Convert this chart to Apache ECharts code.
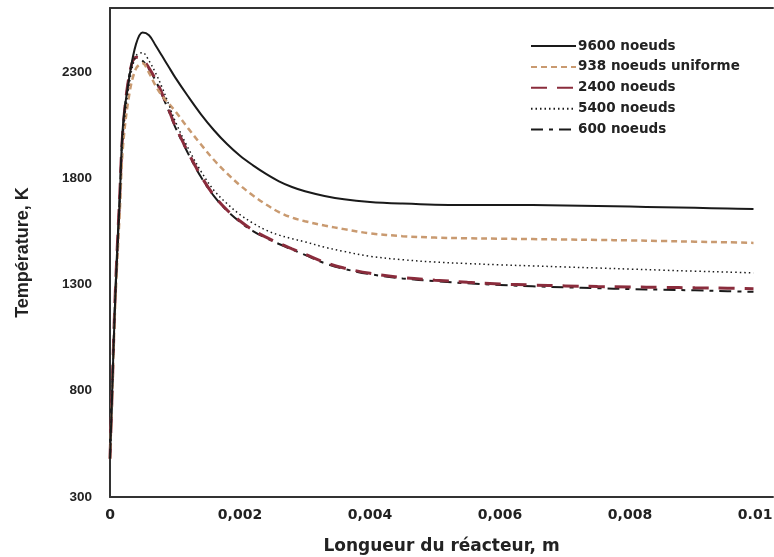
<!DOCTYPE html>
<html>
<head>
<meta charset="utf-8">
<script src="https://cdn.jsdelivr.net/npm/echarts@6/dist/echarts.min.js"></script>
<style>
html,body{margin:0;padding:0;background:#fff;}
#c{width:774px;height:557px;}
</style>
</head>
<body>
<div id="c"></div>
<script>
// Longueur du réacteur (m)
var xs = [0, 0.00003, 0.00008, 0.00015, 0.0002, 0.0003, 0.0004, 0.0005, 0.0006, 0.0007, 0.0008, 0.0009, 0.001, 0.0012, 0.0014, 0.0016, 0.0018, 0.002, 0.0022, 0.0024, 0.0026, 0.0028, 0.003, 0.0033, 0.0036, 0.004, 0.0045, 0.005, 0.0055, 0.006, 0.0065, 0.007, 0.0075, 0.008, 0.0085, 0.009, 0.0095, 0.0099];

var seriesNames = ['9600 noeuds', '938 noeuds uniforme', '2400 noeuds', '5400 noeuds', '600 noeuds'];

var t9600 = [480, 760, 1230, 1700, 2050, 2280, 2430, 2485, 2472, 2425, 2375, 2325, 2275, 2185, 2100, 2025, 1960, 1905, 1860, 1820, 1785, 1758, 1738, 1716, 1700, 1688, 1680, 1675, 1674, 1674, 1673, 1671, 1669, 1666, 1663, 1660, 1657, 1655];

var t938u = [480, 740, 1200, 1640, 1950, 2200, 2315, 2340, 2295, 2235, 2187, 2152, 2116, 2035, 1958, 1885, 1822, 1766, 1718, 1676, 1640, 1614, 1597, 1577, 1560, 1540, 1527, 1520, 1517, 1515, 1513, 1511, 1509, 1507, 1504, 1501, 1498, 1495];

var t2400 = [480, 770, 1250, 1720, 2030, 2290, 2368, 2358, 2318, 2265, 2198, 2125, 2048, 1922, 1810, 1718, 1650, 1598, 1555, 1522, 1493, 1467, 1442, 1404, 1377, 1352, 1332, 1320, 1310, 1302, 1297, 1293, 1290, 1288, 1286, 1284, 1282, 1280];

var t5400 = [480, 760, 1230, 1690, 2000, 2250, 2375, 2390, 2352, 2295, 2228, 2150, 2070, 1942, 1832, 1742, 1680, 1628, 1588, 1555, 1532, 1515, 1500, 1475, 1455, 1432, 1416, 1405, 1398, 1392, 1387, 1382, 1377, 1372, 1367, 1362, 1358, 1354];

var t600 = [480, 770, 1250, 1720, 2030, 2290, 2365, 2352, 2312, 2259, 2192, 2118, 2042, 1917, 1805, 1715, 1647, 1594, 1551, 1518, 1490, 1464, 1439, 1400, 1373, 1348, 1328, 1315, 1305, 1297, 1291, 1286, 1282, 1278, 1275, 1272, 1268, 1265];

var xTickLabels = ['0', '0,002', '0,004', '0,006', '0,008', '0.01'];
var yTickLabels = ['300', '800', '1300', '1800', '2300'];

function pairs(ys) { return xs.map(function (x, i) { return [x, ys[i]]; }); }

var chart = echarts.init(document.getElementById('c'));

function mk(name, data, color, width, type, z) {
  return {
    name: name, type: 'line', data: pairs(data), xAxisIndex: 0,
    smooth: 0.35, symbol: 'none', showSymbol: false, z: z,
    lineStyle: { color: color, width: width, type: type, cap: 'butt' },
    itemStyle: { color: color }
  };
}

chart.setOption({
  animation: false,
  backgroundColor: '#fff',
  grid: { left: 110, right: 1, top: 8, bottom: 60, containLabel: false, outerBoundsMode: 'none' },
  legend: {
    orient: 'vertical', left: 530, top: 39, padding: 0,
    itemWidth: 45, itemHeight: 10, itemGap: 6.9,
    itemStyle: { opacity: 0 },
    textStyle: { fontFamily: 'DejaVu Sans, sans-serif', fontWeight: 'bold', fontSize: 13.5, lineHeight: 12.7, color: '#222', padding: [0, 0, 0, -3] },
    data: seriesNames
  },
  xAxis: [{
    type: 'value', min: 0, max: 0.0102, interval: 0.001,
    name: 'Longueur du réacteur, m', nameLocation: 'middle', nameGap: 41,
    nameTextStyle: { fontFamily: 'DejaVu Sans, sans-serif', fontWeight: 'bold', fontSize: 17, color: '#222' },
    axisLine: { show: true, onZero: false, lineStyle: { color: '#333', width: 2 } },
    axisTick: { show: false },
    splitLine: { show: false },
    axisLabel: {
      fontFamily: 'DejaVu Sans, sans-serif', fontWeight: 'bold', fontSize: 14, color: '#222',
      interval: 0, margin: 11, showMaxLabel: false,
      formatter: function (v) {
        var k = Math.round(v * 10000);
        if (Math.abs(v * 10000 - k) < 1e-6 && k % 20 === 0) {
          var s = xTickLabels[k / 20] || '';
          // keep the last label inside the canvas, as in the original
          return (k / 20 === xTickLabels.length - 1) ? s + '\u00a0\u00a0' : s;
        }
        return '';
      }
    }
  }, {
    type: 'value', position: 'top', min: 0, max: 0.0102,
    axisLine: { show: true, onZero: false, lineStyle: { color: '#333', width: 2 } },
    axisTick: { show: false }, axisLabel: { show: false }, splitLine: { show: false }
  }],
  yAxis: {
    type: 'value', min: 300, max: 2600, interval: 100,
    name: 'Température, K', nameLocation: 'middle', nameGap: 78, nameRotate: 90,
    nameTextStyle: { fontFamily: 'Liberation Sans, Arial, sans-serif', fontWeight: 'bold', fontSize: 18, color: '#222' },
    axisLine: { show: true, onZero: false, lineStyle: { color: '#333', width: 2 } },
    axisTick: { show: false },
    splitLine: { show: false },
    axisLabel: {
      fontFamily: 'Liberation Sans, Arial, sans-serif', fontWeight: 'bold', fontSize: 13.5, color: '#222',
      interval: 0, margin: 18,
      formatter: function (v) {
        var k = Math.round(v);
        if ((k - 300) % 500 === 0) { return yTickLabels[(k - 300) / 500] || ''; }
        return '';
      }
    }
  },
  series: [
    mk(seriesNames[0], t9600, '#1a1a1a', 2, 'solid', 5),
    mk(seriesNames[1], t938u, '#c99a70', 2.5, [6, 4], 4),
    mk(seriesNames[2], t2400, '#8a2c3c', 3, [16, 10], 3),
    mk(seriesNames[3], t5400, '#1a1a1a', 1.5, [1.5, 3], 6),
    mk(seriesNames[4], t600, '#1a1a1a', 2, [12, 6, 4, 6], 2)
  ]
});
</script>
</body>
</html>
